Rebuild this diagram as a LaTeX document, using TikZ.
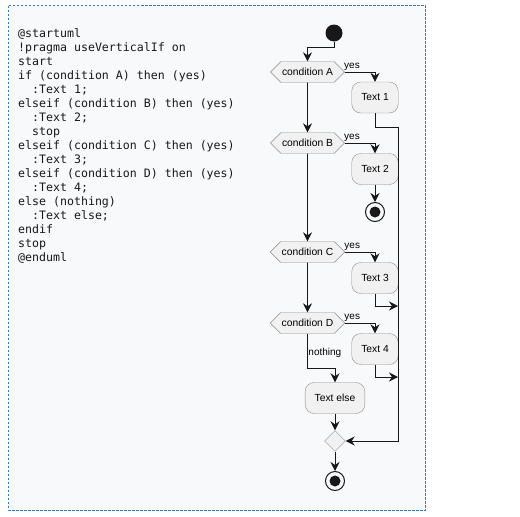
\documentclass[tikz,border=0pt]{standalone}
\usepackage{fontspec}
\setmainfont{Liberation Sans}
\newfontfamily\codefont{DejaVu Sans Mono}
\usetikzlibrary{positioning, shapes.symbols, shapes.geometric, arrows.meta}
\definecolor{umlline}{HTML}{181818}
\definecolor{umlfill}{HTML}{F1F1F1}
\definecolor{umlborder}{HTML}{8C8C8C}
\definecolor{panelbg}{HTML}{F8F9FA}
\definecolor{panelframe}{HTML}{2A7AD8}
\tikzset{
  >={Stealth[length=9pt, width=9pt, inset=3pt]},
  flow/.style={->, draw=umlline, line width=0.9pt},
  cond/.style={shape=signal, signal to=east and west, draw=umlborder, fill=umlfill,
    minimum width=70pt, minimum height=21pt, inner sep=1pt,
    font=\fontsize{10.3}{12}\selectfont},
  action/.style={rectangle, rounded corners=9pt, draw=umlborder, fill=umlfill,
    minimum height=31pt, minimum width=46pt, inner xsep=9.5pt,
    font=\fontsize{10.3}{12}\selectfont},
  startnode/.style={circle, fill=umlline, minimum size=17pt, inner sep=0pt},
  stopnode/.style={circle, draw=umlline, line width=1pt, minimum size=19pt, inner sep=0pt,
    path picture={\fill[umlline] (path picture bounding box.center) circle (5.5pt);}},
  mergebox/.style={diamond, draw=umlborder, fill=umlfill, minimum size=21pt, inner sep=0pt},
  lbl/.style={font=\fontsize{10}{12}\selectfont, inner sep=1pt},
  code/.style={font=\codefont\fontsize{11.6}{14}\selectfont, align=left, inner sep=0pt, text=umlline},
}

\begin{document}
\begin{tikzpicture}[x=1pt, y=-1pt]
  % panel
  \fill[white] (0,0) rectangle (520,517);
  \draw[panelframe, fill=panelbg, line width=0.8pt, dash pattern=on 2.5pt off 1.5pt]
    (8.5,5.5) rectangle (425.5,510);

  % source
  \node[code, anchor=north west] (src) at (18,28) {@startuml\\
!pragma useVerticalIf on\\
start\\
if (condition A) then (yes)\\
\phantom{xx}:Text 1;\\
elseif (condition B) then (yes)\\
\phantom{xx}:Text 2;\\
\phantom{xx}stop\\
elseif (condition C) then (yes)\\
\phantom{xx}:Text 3;\\
elseif (condition D) then (yes)\\
\phantom{xx}:Text 4;\\
else (nothing)\\
\phantom{xx}:Text else;\\
endif\\
stop\\
@enduml};

  % conditions
  \node[startnode] (start) at (334,33) {};
  \node[cond] (cA) at (307.5,72) {condition A};
  \node[cond, below of=cA, node distance=71pt] (cB) {condition B};
  \node[cond, below of=cB, node distance=109pt] (cC) {condition C};
  \node[cond, below of=cC, node distance=71pt] (cD) {condition D};

  % actions
  \node[action, right of=cA, node distance=67.5pt, yshift=-25.5pt] (t1) {Text 1};
  \node[action, right of=cB, node distance=67.5pt, yshift=-26pt] (t2) {Text 2};
  \node[stopnode, below of=t2, node distance=43pt] (stop1) {};
  \node[action, right of=cC, node distance=67.5pt, yshift=-26pt] (t3) {Text 3};
  \node[action, right of=cD, node distance=67.5pt, yshift=-26pt] (t4) {Text 4};
  \node[action, below of=cD, node distance=75pt, xshift=27.5pt] (telse) {Text else};
  \node[mergebox, below of=telse, node distance=43pt] (merge) {};
  \node[stopnode, below of=merge, node distance=40pt] (stop2) {};

  \coordinate[right of=merge, node distance=63pt] (rail);
  \coordinate (j3) at (398,306);
  \coordinate (j4) at (398,377);

  % flows
  \draw[flow] (start) -- ++(0,14) -| (cA);
  \draw[flow] (cA) -| node[lbl, pos=0.12, above] {yes} (t1);
  \draw[flow] (cA) -- (cB);
  \draw[flow] (t1) -- ++(0,30) -| (rail) -- (merge);
  \draw[flow] (cB) -| node[lbl, pos=0.12, above] {yes} (t2);
  \draw[flow] (t2) -- (stop1);
  \draw[flow] (cB) -- (cC);
  \draw[flow] (cC) -| node[lbl, pos=0.12, above] {yes} (t3);
  \draw[flow] (t3) |- (j3);
  \draw[flow] (cC) -- (cD);
  \draw[flow] (cD) -| node[lbl, pos=0.12, above] {yes} (t4);
  \draw[flow] (t4) |- (j4);
  \draw[flow] (cD) -- node[lbl, pos=0.55, anchor=west, inner sep=0.5pt] {nothing} ++(0,45) -| (telse);
  \draw[flow] (telse) -- (merge);
  \draw[flow] (merge) -- (stop2);
\end{tikzpicture}
\end{document}
